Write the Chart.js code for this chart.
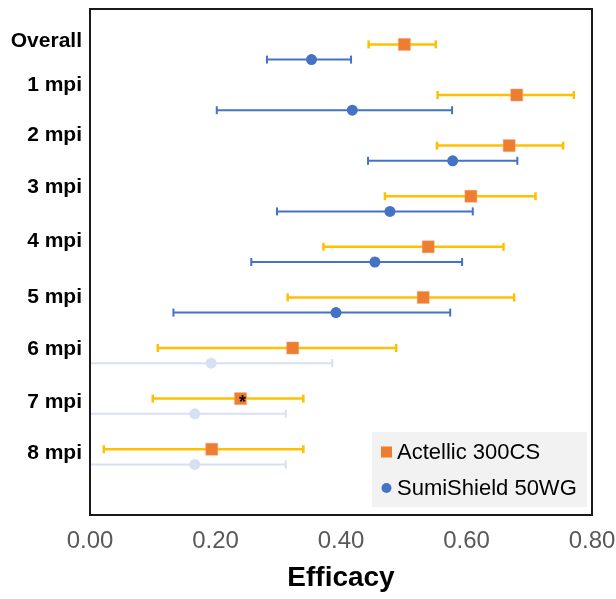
<!DOCTYPE html>
<html>
<head>
<meta charset="utf-8">
<script src="https://cdn.jsdelivr.net/npm/chart.js@4.4.0/dist/chart.umd.min.js"></script>
<style>
  html, body { margin: 0; padding: 0; background: #fff; }
  #wrap { width: 616px; height: 599px; }
</style>
</head>
<body>
<div id="wrap"><canvas id="efficacyChart"></canvas></div>
<script>
// rows, top to bottom
const rowLabels = ['Overall', '1 mpi', '2 mpi', '3 mpi', '4 mpi', '5 mpi', '6 mpi', '7 mpi', '8 mpi'];
// where the row labels sit on the row axis
const labelRows = [-0.07, 0.8, 1.8, 2.83, 3.88, 5.0, 6.03, 7.07, 8.08];
const xTicks = [0, 0.2, 0.4, 0.6, 0.8];

const actellicMean = [0.501, 0.680, 0.668, 0.607, 0.539, 0.531, 0.323, 0.240, 0.194];
const actellicLow  = [0.444, 0.554, 0.553, 0.470, 0.372, 0.315, 0.108, 0.100, 0.022];
const actellicHigh = [0.551, 0.771, 0.754, 0.710, 0.659, 0.676, 0.488, 0.340, 0.340];
const actellicStar = [false, false, false, false, false, false, false, true, false];

const sumiMean = [0.353, 0.418, 0.578, 0.478, 0.454, 0.392, 0.193, 0.167, 0.167];
const sumiLow  = [0.282, 0.202, 0.443, 0.298, 0.257, 0.133, 0, 0, 0];
const sumiHigh = [0.416, 0.577, 0.681, 0.610, 0.593, 0.574, 0.386, 0.312, 0.312];
const sumiFaded = [false, false, false, false, false, false, true, true, true];

const ORANGE = '#ED7D31';
const YELLOW = '#FFC000';
const BLUE = '#4472C4';
const PALE = '#D6E0F2';
const SUMI_SHIFT = 0.3;

function rowOf(i, shift) { return i + shift; }

function barData(low, high, shift, keep) {
    let out = [];
    for (let i = 0; i < low.length; i++) {
        if (keep && !keep(i)) continue;
        out.push({ x: low[i], y: rowOf(i, shift) });
        out.push({ x: high[i], y: rowOf(i, shift) });
        out.push({ x: null, y: null });
    }
    return out;
}

function barSet(data, color, width) {
    return {
        type: 'line',
        data: data,
        borderColor: color,
        borderWidth: width,
        showLine: true,
        spanGaps: false,
        pointStyle: 'line',
        rotation: 90,
        pointRadius: 4,
        pointBorderWidth: width,
        pointBorderColor: color,
        pointBackgroundColor: color,
        order: 2
    };
}

const actellicPoints = actellicMean.map((v, i) => ({ x: v, y: rowOf(i, 0) }));
const sumiPoints = sumiMean.map((v, i) => ({ x: v, y: rowOf(i, SUMI_SHIFT) }));

const extras = {
    id: 'extras',
    afterDatasetsDraw(chart) {
        const ctx = chart.ctx;
        const xs = chart.scales.x, ys = chart.scales.y;
        ctx.save();
        // asterisk
        ctx.fillStyle = '#000';
        ctx.font = 'bold 18px "Liberation Sans", Arial, sans-serif';
        ctx.textAlign = 'center';
        ctx.textBaseline = 'alphabetic';
        actellicStar.forEach((s, i) => {
            if (!s) return;
            ctx.fillText('*', xs.getPixelForValue(actellicMean[i]) + 2, ys.getPixelForValue(rowOf(i, 0)) + 9);
        });
        // frame
        const a = chart.chartArea;
        ctx.strokeStyle = '#1a1a1a';
        ctx.lineWidth = 2;
        ctx.strokeRect(a.left, a.top, a.right - a.left, a.bottom - a.top);
        // legend
        const w = 215, h = 75;
        const lx = a.right - 5 - w, ly = a.bottom - 8 - h;
        ctx.fillStyle = '#F2F2F2';
        ctx.fillRect(lx, ly, w, h);
        ctx.font = '22px "Liberation Sans", Arial, sans-serif';
        ctx.textAlign = 'left';
        ctx.textBaseline = 'middle';
        const r1 = ly + 20, r2 = ly + 56;
        ctx.fillStyle = ORANGE;
        ctx.fillRect(lx + 9, r1 - 5.5, 11, 11);
        ctx.fillStyle = BLUE;
        ctx.beginPath();
        ctx.arc(lx + 14.5, r2, 5, 0, Math.PI * 2);
        ctx.fill();
        ctx.fillStyle = '#000';
        ctx.fillText(chart.data.datasets[0].label, lx + 25, r1 + 1);
        ctx.fillText(chart.data.datasets[1].label, lx + 25, r2 + 1);
        ctx.restore();
    }
};

new Chart(document.getElementById('efficacyChart'), {
    type: 'scatter',
    data: {
        datasets: [
            {
                label: 'Actellic 300CS',
                data: actellicPoints,
                pointStyle: 'rect',
                pointRadius: 8.5,
                backgroundColor: ORANGE,
                borderColor: '#F4A373',
                borderWidth: 0.5,
                order: 0
            },
            {
                label: 'SumiShield 50WG',
                data: sumiPoints,
                pointStyle: 'circle',
                pointRadius: 5.5,
                backgroundColor: sumiMean.map((v, i) => sumiFaded[i] ? PALE : BLUE),
                borderColor: sumiMean.map((v, i) => sumiFaded[i] ? PALE : BLUE),
                borderWidth: 0,
                order: 0
            },
            barSet(barData(actellicLow, actellicHigh, 0), YELLOW, 2.5),
            barSet(barData(sumiLow, sumiHigh, SUMI_SHIFT, i => !sumiFaded[i]), BLUE, 2),
            barSet(barData(sumiLow, sumiHigh, SUMI_SHIFT, i => sumiFaded[i]), PALE, 2)
        ]
    },
    options: {
        responsive: true,
        maintainAspectRatio: false,
        animation: false,
        events: [],
        layout: { padding: { left: 0, right: 24, top: 8, bottom: 0 } },
        plugins: {
            legend: { display: false },
            tooltip: { enabled: false }
        },
        scales: {
            x: {
                type: 'linear',
                min: 0,
                max: 0.8,
                afterBuildTicks: scale => { scale.ticks = xTicks.map(v => ({ value: v })); },
                afterFit: scale => {
                    scale.height = 84;
                    scale.paddingLeft = 0;
                    scale.paddingRight = 0;
                },
                grid: { display: false, drawTicks: false },
                border: { display: false },
                ticks: {
                    padding: 12,
                    color: '#595959',
                    font: { family: '"Liberation Sans", Arial, sans-serif', size: 24 },
                    callback: v => Number(v).toFixed(2)
                },
                title: {
                    display: true,
                    text: 'Efficacy',
                    color: '#000',
                    font: { family: '"Liberation Sans", Arial, sans-serif', size: 28, weight: 'bold' },
                    padding: { top: 0, bottom: 4 }
                }
            },
            y: {
                type: 'linear',
                reverse: true,
                min: -0.7,
                max: 9.3,
                afterBuildTicks: scale => { scale.ticks = labelRows.map(v => ({ value: v })); },
                afterFit: scale => {
                    scale.width = 90;
                    scale.paddingTop = 0;
                    scale.paddingBottom = 0;
                },
                grid: { display: false, drawTicks: false },
                border: { display: false },
                ticks: {
                    padding: 8,
                    color: '#000',
                    autoSkip: false,
                    font: { family: '"Liberation Sans", Arial, sans-serif', size: 21, weight: 'bold' },
                    callback: (v, idx) => rowLabels[idx]
                }
            }
        }
    },
    plugins: [extras]
});
</script>
</body>
</html>
